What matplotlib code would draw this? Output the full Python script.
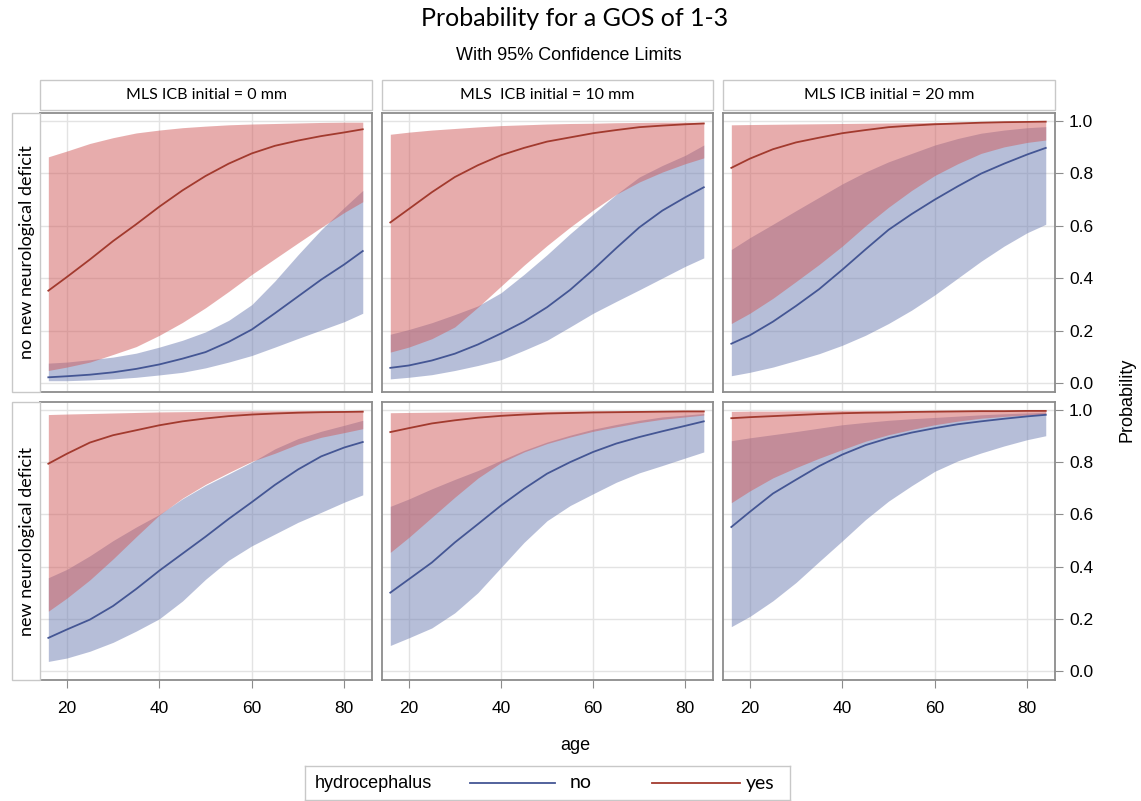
import matplotlib
matplotlib.use("Agg")
import matplotlib.pyplot as plt
from matplotlib.patches import Rectangle

# ---- data ----
age = [16, 20, 25, 30, 35, 40, 45, 50, 55, 60, 65, 70, 75, 80, 84]

col_titles = ["MLS ICB initial = 0 mm", "MLS  ICB initial = 10 mm", "MLS ICB initial = 20 mm"]
row_titles = ["no new neurological deficit", "new neurological deficit"]

# hydrocephalus = no (blue): fit, lower, upper per panel (row, col)
no_fit = {
    (0, 0): [.023, .027, .033, .042, .055, .072, .094, .119, .158, .205, .267, .331, .395, .453, .504],
    (0, 1): [.059, .068, .087, .113, .148, .19, .235, .29, .356, .433, .515, .594, .658, .709, .747],
    (0, 2): [.151, .183, .235, .295, .359, .433, .51, .585, .645, .70, .751, .799, .837, .872, .897],
    (1, 0): [.128, .16, .198, .25, .315, .385, .45, .515, .583, .647, .713, .772, .822, .856, .877],
    (1, 1): [.301, .352, .416, .493, .563, .634, .698, .756, .80, .839, .871, .896, .918, .939, .956],
    (1, 2): [.552, .61, .68, .733, .785, .829, .865, .892, .913, .93, .945, .956, .966, .975, .981],
}
no_lo = {
    (0, 0): [.01, .01, .013, .017, .023, .032, .042, .059, .081, .106, .138, .171, .203, .235, .267],
    (0, 1): [.017, .023, .033, .049, .068, .09, .126, .164, .215, .267, .312, .356, .401, .446, .478],
    (0, 2): [.029, .042, .062, .087, .113, .145, .183, .228, .279, .337, .401, .465, .523, .574, .606],
    (1, 0): [.038, .051, .077, .111, .154, .201, .269, .352, .425, .48, .525, .57, .608, .647, .675],
    (1, 1): [.099, .128, .166, .224, .301, .397, .493, .576, .634, .679, .723, .759, .787, .816, .839],
    (1, 2): [.171, .21, .27, .34, .42, .499, .58, .651, .71, .765, .805, .835, .862, .886, .901],
}
no_hi = {
    (0, 0): [.077, .081, .09, .10, .115, .138, .164, .196, .24, .30, .39, .49, .585, .67, .735],
    (0, 1): [.187, .205, .231, .262, .295, .345, .415, .49, .57, .645, .72, .786, .83, .869, .908],
    (0, 2): [.51, .555, .606, .658, .709, .76, .805, .844, .876, .908, .933, .953, .965, .974, .978],
    (1, 0): [.358, .39, .442, .50, .552, .60, .66, .711, .755, .80, .851, .89, .918, .941, .96],
    (1, 1): [.631, .659, .698, .734, .768, .807, .845, .877, .903, .926, .944, .96, .973, .98, .986],
    (1, 2): [.882, .893, .905, .917, .93, .943, .952, .96, .966, .971, .976, .981, .985, .988, .991],
}

# hydrocephalus = yes (red)
yes_fit = {
    (0, 0): [.353, .405, .472, .542, .606, .673, .735, .79, .837, .876, .905, .925, .942, .956, .968],
    (0, 1): [.613, .664, .728, .786, .831, .869, .897, .921, .937, .953, .965, .976, .982, .987, .99],
    (0, 2): [.821, .856, .892, .918, .936, .953, .965, .976, .982, .987, .99, .993, .995, .996, .997],
    (1, 0): [.794, .832, .875, .903, .922, .941, .956, .967, .976, .982, .986, .989, .991, .992, .993],
    (1, 1): [.915, .93, .948, .96, .97, .977, .982, .986, .988, .99, .991, .992, .993, .994, .994],
    (1, 2): [.968, .972, .976, .98, .984, .987, .989, .99, .992, .993, .994, .995, .995, .996, .996],
}
yes_lo = {
    (0, 0): [.049, .062, .081, .11, .14, .183, .232, .288, .35, .415, .475, .535, .594, .651, .692],
    (0, 1): [.119, .138, .17, .215, .29, .37, .45, .525, .595, .66, .72, .767, .805, .837, .859],
    (0, 2): [.228, .267, .324, .388, .453, .523, .60, .671, .735, .792, .837, .876, .901, .918, .927],
    (1, 0): [.23, .28, .35, .43, .515, .598, .662, .715, .76, .803, .834, .869, .895, .913, .928],
    (1, 1): [.455, .512, .589, .666, .739, .798, .839, .871, .896, .918, .935, .951, .964, .973, .98],
    (1, 2): [.645, .69, .74, .779, .815, .848, .88, .905, .925, .943, .957, .968, .975, .98, .983],
}
yes_hi = {
    (0, 0): [.863, .885, .914, .936, .954, .965, .974, .98, .985, .988, .99, .992, .994, .995, .995],
    (0, 1): [.949, .957, .965, .971, .977, .982, .985, .988, .99, .991, .993, .994, .995, .995, .995],
    (0, 2): [.985, .986, .987, .988, .989, .99, .991, .992, .993, .994, .995, .995, .996, .996, .997],
    (1, 0): [.982, .984, .986, .988, .99, .992, .993, .994, .995, .996, .996, .997, .997, .997, .998],
    (1, 1): [.989, .99, .991, .992, .993, .994, .995, .995, .996, .996, .996, .997, .997, .997, .997],
    (1, 2): [.994, .995, .995, .996, .996, .997, .997, .997, .997, .998, .998, .998, .998, .998, .998],
}

x_ticks = [20, 40, 60, 80]
y_ticks = [0.0, 0.2, 0.4, 0.6, 0.8, 1.0]

# ---- style ----
BLUE_LINE, RED_LINE = "#445694", "#A23A2E"
BLUE_FILL, RED_FILL = "#6F7EB3", "#D05B5B"
FRAME = "#8c8c8c"
BOX = "#c8c8c8"
narrow = ["Liberation Sans Narrow", "Liberation Sans", "DejaVu Sans"]
humanist = ["Lato", "Open Sans", "DejaVu Sans"]

W, H = 1141, 801
fig = plt.figure(figsize=(W / 100, H / 100), dpi=100)


def frect(x0, y0, x1, y1):
    return [x0 / W, 1 - y1 / H, (x1 - x0) / W, (y1 - y0) / H]


def fbox(x0, y0, x1, y1):
    fig.add_artist(Rectangle((x0 / W, 1 - y1 / H), (x1 - x0) / W, (y1 - y0) / H,
                             transform=fig.transFigure, facecolor="white",
                             edgecolor=BOX, linewidth=1.0))


col_x = [(40, 372), (382, 713), (723, 1055)]
row_y = [(113, 392), (402, 680)]

fig.text(575 / W, 1 - 19 / H, "Probability for a GOS of 1-3", ha="center", va="center",
         fontsize=18, family=humanist)
fig.text(569 / W, 1 - 55 / H, "With 95% Confidence Limits", ha="center", va="center",
         fontsize=13, family=narrow)

for c, (x0, x1) in enumerate(col_x):
    fbox(x0, 80, x1, 110)
    fig.text((x0 + x1) / 2 / W, 1 - 95 / H, col_titles[c], ha="center", va="center",
             fontsize=11.5, family=humanist)

for r, (y0, y1) in enumerate(row_y):
    fbox(12, y0, 40, y1)
    fig.text(27 / W, 1 - (y0 + y1) / 2 / H, row_titles[r], ha="center", va="center",
             rotation=90, fontsize=13, family=humanist)

for r, (y0, y1) in enumerate(row_y):
    for c, (x0, x1) in enumerate(col_x):
        ax = fig.add_axes(frect(x0, y0, x1, y1))
        key = (r, c)
        ax.fill_between(age, no_lo[key], no_hi[key], color=BLUE_FILL, alpha=0.5, lw=0)
        ax.fill_between(age, yes_lo[key], yes_hi[key], color=RED_FILL, alpha=0.5, lw=0)
        ax.plot(age, no_fit[key], color=BLUE_LINE, lw=1.3)
        ax.plot(age, yes_fit[key], color=RED_LINE, lw=1.3)

        ax.set_xlim(14.2, 86)
        ax.set_ylim(-0.033, 1.03)
        ax.set_xticks(x_ticks)
        ax.set_yticks(y_ticks)
        ax.grid(True, color="#e3e3e3", lw=1.0)
        ax.set_axisbelow(True)
        for s in ax.spines.values():
            s.set_color(FRAME)
            s.set_linewidth(1.3)

        ax.yaxis.tick_right()
        ax.tick_params(axis="both", direction="out", color=FRAME, length=6,
                       labelsize=12.5, pad=4)
        ax.tick_params(axis="x", pad=9)
        if c != 2:
            ax.tick_params(axis="y", length=0, labelright=False)
        else:
            ax.set_yticklabels([f"{v:.1f}" for v in y_ticks], family=narrow)
        if r == 0:
            ax.tick_params(axis="x", length=0, labelbottom=False)
        else:
            ax.set_xticklabels([str(v) for v in x_ticks], family=narrow)

fig.text(1127 / W, 1 - 400 / H, "Probability", ha="center", va="center", rotation=90,
         fontsize=13, family=narrow)
fig.text(575 / W, 1 - 745 / H, "age", ha="center", va="center", fontsize=13, family=narrow)

# legend
leg = fig.add_axes(frect(305, 766, 790, 800))
leg.set_xlim(305, 790)
leg.set_ylim(0, 1)
leg.set_xticks([])
leg.set_yticks([])
for s in leg.spines.values():
    s.set_color(BOX)
    s.set_linewidth(1.0)
leg.text(315, 0.5, "hydrocephalus", ha="left", va="center", fontsize=13, family=narrow)
leg.plot([470, 555], [0.5, 0.5], color=BLUE_LINE, lw=1.3)
leg.text(570, 0.5, "no", ha="left", va="center", fontsize=14, family=humanist)
leg.plot([652, 740], [0.5, 0.5], color=RED_LINE, lw=1.3)
leg.text(746, 0.5, "yes", ha="left", va="center", fontsize=14, family=humanist)

fig.savefig("out.png", dpi=100, facecolor="white")
